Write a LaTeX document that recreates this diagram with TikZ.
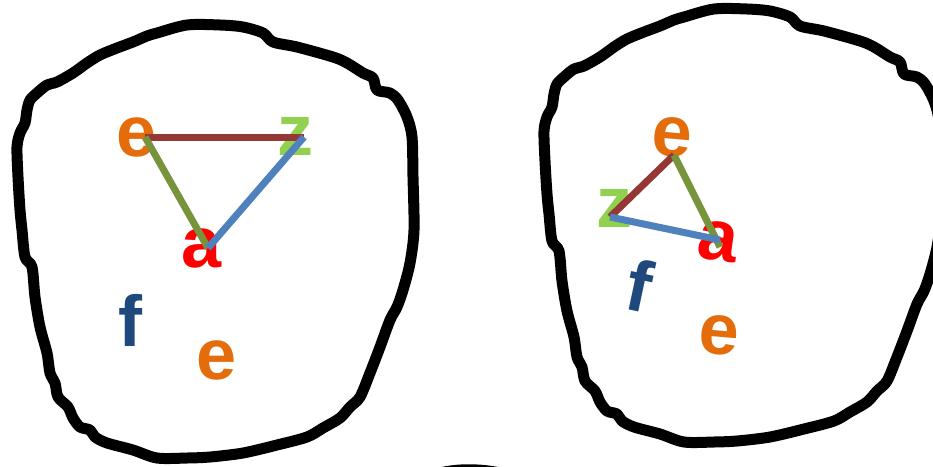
\documentclass[tikz,border=0pt]{standalone}
\usepackage{fontspec}
\setmainfont{Liberation Sans}
\definecolor{eorange}{HTML}{E46C0A}
\definecolor{zgreen}{HTML}{92D050}
\definecolor{ared}{HTML}{FF0000}
\definecolor{fnavy}{HTML}{1F497D}
\definecolor{lbrown}{HTML}{953735}
\definecolor{lolive}{HTML}{77933C}
\definecolor{lblue}{HTML}{4F81BD}
\begin{document}
\begin{tikzpicture}[x=1pt,y=-1pt,
  letter/.style={inner sep=0pt, font=\fontsize{72}{72}\selectfont\bfseries},
  outline/.style={line width=11pt, line join=round, line cap=round, draw=black},
  edgeline/.style={line width=7pt}]
\useasboundingbox (0,0) rectangle (933,466);
\clip (0,0) rectangle (933,466);
\fill[white] (0,0) rectangle (933,466);
% blobs
\foreach \dx/\dy in {0/0,527/-16}{
\draw[outline, shift={(\dx,\dy)}] plot[smooth cycle, tension=0.5] coordinates {
(157,33) (187,25) (220,25) (243,27) (263,33) (273,42) (297,47) (333,57) (347,63) (363,73) (373,78) (377,90) (390,93) (398,100) (407,117) (412,137) (413,177) (414,230) (410,263) (403,290) (397,307) (390,320) (380,347) (370,373) (360,397) (350,407) (340,418) (323,428) (307,437) (277,445) (243,453) (210,457) (187,458) (157,458) (133,450) (107,443) (95,437) (90,430) (80,427) (73,418) (68,407) (58,397) (55,383) (50,373) (47,353) (40,327) (35,297) (32,267) (25,257) (22,230) (20,210) (18,177) (17,147) (20,133) (25,123) (27,110) (30,100) (37,93) (47,85) (57,82) (73,73) (87,63) (100,55) (117,48) (133,42) (147,36)};
}
\draw[outline] (425,478) .. controls (450,467) and (485,467) .. (520,478);
% left letters
\node[letter, text=eorange] (eL) at (137,137) {e};
\node[letter, text=zgreen] (zL) at (295,136) {z};
\node[letter, text=ared] (aL) at (202,248) {a};
\node[letter, text=fnavy] (fL) at (130,320) {f};
\node[letter, text=eorange] (e2L) at (217,360) {e};
\coordinate (peL) at (145,137);
\coordinate (pzL) at (304,137);
\coordinate (paL) at (208,248);
\draw[edgeline, lbrown] (peL) -- (pzL);
\draw[edgeline, lolive] (peL) -- (paL);
\draw[edgeline, lblue] (pzL) -- (paL);
% right letters
\node[letter, text=eorange, rotate=-5] (eR) at (672,137) {e};
\node[letter, text=zgreen] (zR) at (614,208) {z};
\node[letter, text=ared, rotate=-8] (aR) at (718,241) {a};
\node[letter, text=fnavy, rotate=-12] (fR) at (640,285) {f};
\node[letter, text=eorange, rotate=-5] (e2R) at (719,335) {e};
\coordinate (peR) at (674,155);
\coordinate (pzR) at (610,217);
\coordinate (paR1) at (720,247);
\coordinate (paR2) at (720,240);
\draw[edgeline, lbrown] (peR) -- (pzR);
\draw[edgeline, lolive] (peR) -- (paR1);
\draw[edgeline, lblue] (pzR) -- (paR2);
\end{tikzpicture}
\end{document}
